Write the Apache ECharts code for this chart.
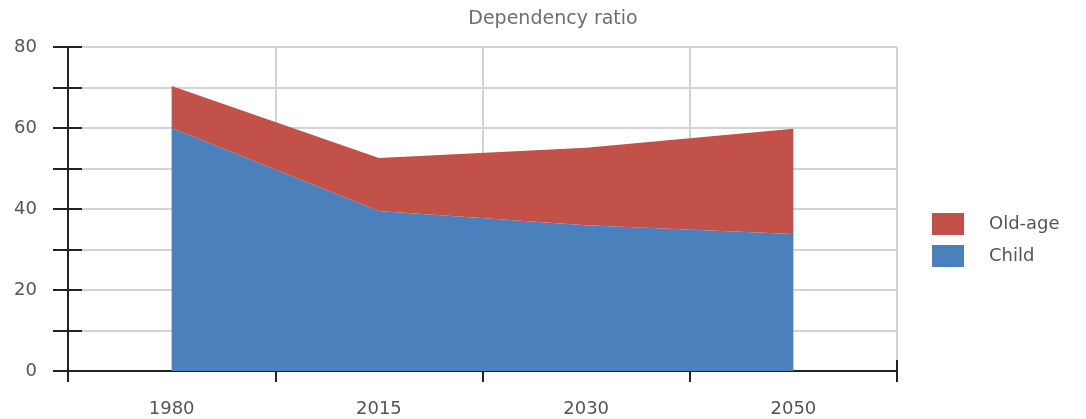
<!DOCTYPE html>
<html>
<head>
<meta charset="utf-8">
<script src="https://cdn.jsdelivr.net/npm/echarts@6/dist/echarts.min.js"></script>
<style>
  html, body { margin: 0; padding: 0; background: #fff; }
  #chart { width: 1086px; height: 419px; }
</style>
</head>
<body>
<div id="chart"></div>
<script>
'use strict';

const years = ['1980', '2015', '2030', '2050'];
const childRatio = [60, 39.5, 36, 33.8];
const oldAgeRatio = [10.4, 13.1, 19.1, 26];
const yTicks = [0, 20, 40, 60, 80];

const fontFamily = '"DejaVu Sans", "Open Sans", sans-serif';
const gridLine = { show: true, lineStyle: { color: '#d3d3d3', width: 2 } };

function makeChart() {
  const option = {
    animation: false,
    title: {
      text: 'Dependency ratio',
      left: 548,
      textAlign: 'center',
      top: 5,
      textStyle: { color: '#6e6e6e', fontSize: 19, fontWeight: 'normal', fontFamily: fontFamily }
    },
    legend: {
      data: ['Old-age', 'Child'],
      orient: 'vertical',
      left: 927,
      top: 208,
      icon: 'rect',
      itemWidth: 32,
      itemHeight: 22,
      itemGap: 10,
      textStyle: { color: '#555', fontSize: 18, fontFamily: fontFamily, padding: [0, 0, 0, 20] }
    },
    grid: {
      left: 68,
      right: 189,
      top: 47,
      bottom: 48
    },
    xAxis: [{
      type: 'category',
      data: years,
      boundaryGap: true,
      axisLine: { lineStyle: { color: '#222', width: 2 } },
      axisTick: { show: true, length: 11, interval: 0, lineStyle: { color: '#222', width: 2 } },
      axisLabel: { color: '#555', fontSize: 18, fontFamily: fontFamily, margin: 29 },
      splitLine: { show: true, interval: 0, lineStyle: { color: '#d3d3d3', width: 2 } }
    }, {
      type: 'category',
      data: years,
      position: 'bottom',
      boundaryGap: true,
      axisLine: { show: false },
      axisTick: { show: true, inside: true, length: 11, interval: 0, lineStyle: { color: '#222', width: 2 } },
      axisLabel: { show: false },
      splitLine: { show: false }
    }],
    yAxis: [{
      type: 'value',
      min: 0,
      max: 80,
      interval: 10,
      axisLine: { show: true, lineStyle: { color: '#222', width: 2 } },
      axisTick: { show: true, length: 15, lineStyle: { color: '#222', width: 2 } },
      axisLabel: {
        color: '#555', fontSize: 18, fontFamily: fontFamily, margin: 31,
        formatter: v => (yTicks.indexOf(v) >= 0 ? String(v) : '')
      },
      splitLine: gridLine
    }, {
      type: 'value',
      position: 'left',
      min: 0,
      max: 80,
      interval: 10,
      axisLine: { show: false },
      axisTick: { show: true, inside: true, length: 14, lineStyle: { color: '#222', width: 2 } },
      axisLabel: { show: false },
      splitLine: { show: false }
    }],
    series: [{
      name: 'Child',
      type: 'line',
      stack: 'ratio',
      data: childRatio,
      symbol: 'none',
      color: '#4A81BC',
      lineStyle: { width: 0 },
      areaStyle: { color: '#4A81BC', opacity: 1 }
    }, {
      name: 'Old-age',
      type: 'line',
      stack: 'ratio',
      data: oldAgeRatio,
      symbol: 'none',
      color: '#C2514A',
      lineStyle: { width: 0 },
      areaStyle: { color: '#C2514A', opacity: 1 }
    }]
  };
  const chart = echarts.init(document.getElementById('chart'));
  chart.setOption(option);
}

makeChart();
</script>
</body>
</html>
